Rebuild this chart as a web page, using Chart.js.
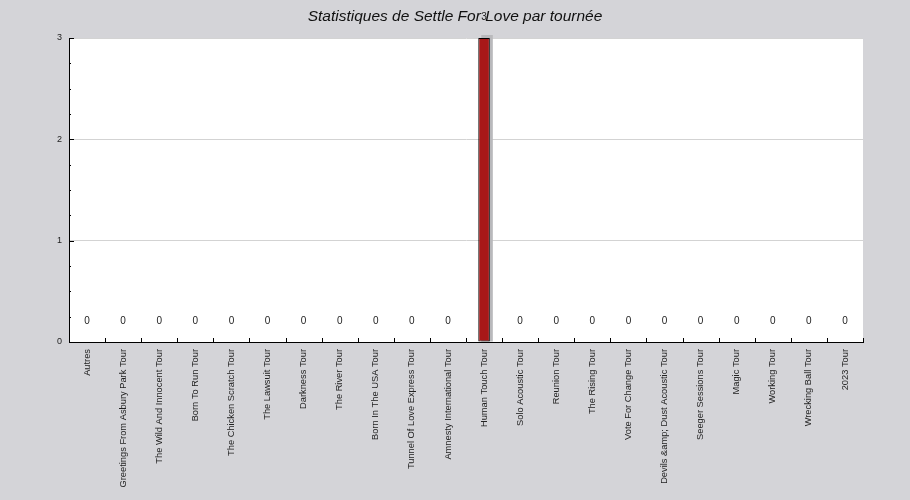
<!DOCTYPE html>
<html>
<head>
<meta charset="utf-8">
<script src="https://cdn.jsdelivr.net/npm/chart.js@4"></script>
<style>
  html, body { margin: 0; padding: 0; background: #d4d4d8; }
  #wrap { width: 910px; height: 500px; }
</style>
</head>
<body>
<div id="wrap"><canvas id="chart"></canvas></div>
<script>
const tours = [
  'Autres', 'Greetings From Asbury Park Tour', 'The Wild And Innocent Tour',
  'Born To Run Tour', 'The Chicken Scratch Tour', 'The Lawsuit Tour',
  'Darkness Tour', 'The River Tour', 'Born In The USA Tour',
  'Tunnel Of Love Express Tour', 'Amnesty International Tour', 'Human Touch Tour',
  'Solo Acoustic Tour', 'Reunion Tour', 'The Rising Tour', 'Vote For Change Tour',
  'Devils &amp; Dust Acoustic Tour', 'Seeger Sessions Tour', 'Magic Tour',
  'Working Tour', 'Wrecking Ball Tour', '2023 Tour'
];
const concerts = [0, 0, 0, 0, 0, 0, 0, 0, 0, 0, 0, 3, 0, 0, 0, 0, 0, 0, 0, 0, 0, 0];
const yTicks = [0, 1, 2, 3];

// white plot area, inner ticks, bar shadow and value labels
const decor = {
  id: 'decor',
  beforeDraw(chart) {
    const { ctx, chartArea: a } = chart;
    ctx.save();
    ctx.fillStyle = '#ffffff';
    ctx.fillRect(a.left, a.top, a.right - a.left, a.bottom - a.top);
    ctx.restore();
  },
  beforeDatasetsDraw(chart) {
    const { ctx } = chart;
    const meta = chart.getDatasetMeta(0);
    ctx.save();
    ctx.fillStyle = '#b9b9bc';
    meta.data.forEach((bar, i) => {
      if (!concerts[i]) return;
      const w = bar.width;
      ctx.fillRect(bar.x - w / 2 + 3, bar.y - 3, w, bar.base - bar.y + 3);
    });
    ctx.restore();
  },
  afterDraw(chart) {
    const { ctx, chartArea: a, scales } = chart;
    const y = scales.y, x = scales.x;
    ctx.save();
    ctx.strokeStyle = '#000';
    ctx.lineWidth = 1;
    ctx.beginPath();
    for (let v = 0; v <= 3.001; v += 0.25) {
      const py = Math.round(y.getPixelForValue(v)) + 0.5;
      const len = Number.isInteger(v) ? 5 : 2;
      ctx.moveTo(a.left, py);
      ctx.lineTo(a.left + len, py);
    }
    for (let i = 1; i <= tours.length; i++) {
      const px = Math.round(x.getPixelForValue(i - 0.5)) + 0.5;
      ctx.moveTo(px, a.bottom);
      ctx.lineTo(px, a.bottom - 4);
    }
    ctx.stroke();

    ctx.fillStyle = '#222';
    ctx.font = '10px "Liberation Sans", Arial, sans-serif';
    ctx.textAlign = 'center';
    ctx.textBaseline = 'middle';
    const meta = chart.getDatasetMeta(0);
    meta.data.forEach((bar, i) => {
      ctx.fillText(String(concerts[i]), bar.x, bar.y - 21);
    });
    ctx.restore();
  }
};

new Chart(document.getElementById('chart'), {
  type: 'bar',
  data: {
    labels: tours,
    datasets: [{
      label: 'Concerts',
      data: concerts,
      backgroundColor: '#a81818',
      borderColor: '#000',
      borderWidth: 1,
      borderSkipped: false,
      barPercentage: 0.32,
      categoryPercentage: 1
    }]
  },
  options: {
    responsive: true,
    maintainAspectRatio: false,
    animation: false,
    layout: { padding: 0 },
    plugins: {
      legend: { display: false },
      tooltip: { enabled: false },
      title: {
        display: true,
        text: 'Statistiques de Settle For Love par tournée',
        color: '#111',
        font: { family: '"Liberation Sans", Arial, sans-serif', size: 15.5, style: 'italic', weight: 'normal' },
        padding: { top: 7.5, bottom: 11.9 }
      }
    },
    scales: {
      x: {
        grid: { display: false, drawTicks: false },
        border: { color: '#000', width: 1 },
        ticks: {
          color: '#222',
          font: { family: '"Liberation Sans", Arial, sans-serif', size: 9.3 },
          minRotation: 90,
          maxRotation: 90,
          autoSkip: false,
          padding: 7
        },
        afterFit(s) { s.height = 158; }
      },
      y: {
        min: 0,
        max: 3,
        afterBuildTicks(s) { s.ticks = yTicks.map(v => ({ value: v })); },
        grid: { color: '#d3d3d3', drawTicks: false },
        border: { color: '#000', width: 1 },
        ticks: {
          color: '#222',
          font: { family: '"Liberation Sans", Arial, sans-serif', size: 9 },
          padding: 7
        },
        afterFit(s) { s.width = 69; }
      },
      yRight: {
        position: 'right',
        min: 0,
        max: 3,
        grid: { display: false, drawTicks: false },
        border: { display: false },
        ticks: { display: false },
        afterFit(s) { s.width = 47; }
      }
    }
  },
  plugins: [decor]
});
</script>
</body>
</html>
